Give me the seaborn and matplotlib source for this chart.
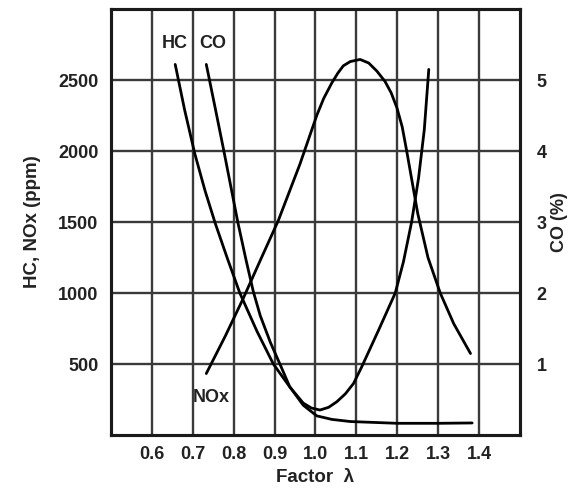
import numpy as np
import pandas as pd
import matplotlib
matplotlib.use("Agg")
import matplotlib.pyplot as plt
import seaborn as sns

# ---- data ----
lam_hc = [0.657, 0.680, 0.705, 0.730, 0.755, 0.785, 0.815, 0.857, 0.897, 0.937,
          0.970, 0.990, 1.011, 1.032, 1.052, 1.073, 1.093, 1.113, 1.154, 1.195,
          1.215, 1.235, 1.252, 1.266, 1.277]
hc_ppm = [2610, 2290, 1980, 1720, 1490, 1240, 1000, 730, 500, 339,
          225, 190, 176, 195, 234, 290, 363, 480, 737, 1000,
          1220, 1500, 1810, 2150, 2575]

lam_co = [0.733, 0.755, 0.776, 0.793, 0.810, 0.830, 0.848, 0.865, 0.890, 0.913,
          0.937, 0.970, 1.003, 1.040, 1.085, 1.200, 1.300, 1.383]
co_pct = [5.22, 4.60, 4.00, 3.50, 3.00, 2.47, 2.02, 1.68, 1.30, 1.00,
          0.68, 0.42, 0.27, 0.22, 0.19, 0.165, 0.165, 0.17]

lam_nox = [0.733, 0.780, 0.823, 0.865, 0.909, 0.962, 1.003, 1.020, 1.040, 1.055,
           1.068, 1.085, 1.109, 1.130, 1.150, 1.170, 1.185, 1.199, 1.212, 1.223,
           1.250, 1.275, 1.305, 1.338, 1.379]
nox_ppm = [433, 700, 960, 1230, 1510, 1908, 2250, 2370, 2480, 2550,
           2600, 2630, 2645, 2620, 2563, 2490, 2410, 2305, 2170, 2000,
           1560, 1250, 1000, 784, 574]

x_ticks = [0.6, 0.7, 0.8, 0.9, 1.0, 1.1, 1.2, 1.3, 1.4]
x_tick_labels = ["0.6", "0.7", "0.8", "0.9", "1.0", "1.1", "1.2", "1.3", "1.4"]
left_ticks = [500, 1000, 1500, 2000, 2500]
right_ticks = [1, 2, 3, 4, 5]

sns.set_theme(style="white")
plt.rcParams['font.family'] = ['Liberation Sans', 'DejaVu Sans']
plt.rcParams['font.weight'] = 'bold'

TXT = "#222222"
fig = plt.figure(figsize=(5.73, 4.93), dpi=100)
ax = fig.add_axes([0.1937, 0.1176, 0.7138, 0.8641])

df_hc = pd.DataFrame({"lam": lam_hc, "val": hc_ppm})
df_nox = pd.DataFrame({"lam": lam_nox, "val": nox_ppm})
df_co = pd.DataFrame({"lam": lam_co, "val": co_pct})

sns.lineplot(data=df_hc, x="lam", y="val", ax=ax, color="black", lw=2,
             sort=False, estimator=None, zorder=5)
sns.lineplot(data=df_nox, x="lam", y="val", ax=ax, color="black", lw=2,
             sort=False, estimator=None, zorder=5)

ax.set_xlim(0.5, 1.5)
ax.set_ylim(0, 3000)
ax.set_xticks(x_ticks)
ax.set_xticklabels(x_tick_labels)
ax.set_yticks(left_ticks)
ax.grid(True, color="#3a3a3a", lw=1.7)
ax.set_axisbelow(True)
ax.tick_params(axis="both", length=0, labelsize=13, colors=TXT)
ax.tick_params(axis="x", pad=8)
ax.tick_params(axis="y", pad=9)
ax.set_xlabel("Factor  λ", fontsize=13.5, color=TXT, labelpad=4, fontweight="bold")
ax.set_ylabel("HC, NOx (ppm)", fontsize=13.5, color=TXT, labelpad=12, fontweight="bold")

tw = ax.twinx()
sns.lineplot(data=df_co, x="lam", y="val", ax=tw, color="black", lw=2,
             sort=False, estimator=None, zorder=5)
tw.set_ylim(0, 6)
tw.set_yticks(right_ticks)
tw.grid(False)
tw.tick_params(axis="y", length=0, labelsize=13, colors=TXT, pad=12)
tw.set_ylabel("CO (%)", fontsize=13, color=TXT, labelpad=3, fontweight="bold")
tw.set_xlabel("")

for a in (ax, tw):
    for s in a.spines.values():
        s.set_visible(True)
        s.set_color("#1a1a1a")
        s.set_linewidth(2.2)

ax.text(0.656, 2760, "HC", fontsize=13, ha="center", va="center", color=TXT, fontweight="bold")
ax.text(0.749, 2760, "CO", fontsize=13, ha="center", va="center", color=TXT, fontweight="bold")
ax.text(0.746, 267, "NOx", fontsize=13, ha="center", va="center", color=TXT, fontweight="bold")

fig.savefig("out.png", dpi=100)
